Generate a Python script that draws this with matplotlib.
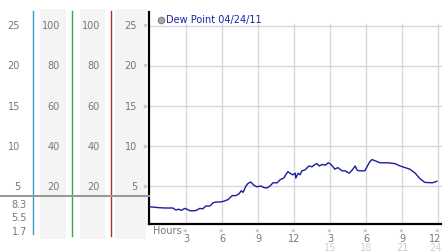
import matplotlib.pyplot as plt
from matplotlib.patches import Rectangle
from matplotlib.lines import Line2D

# dew point readings (hour of day, deg)
hours = [0, 0.67, 1.25, 1.9, 2.15, 2.4, 2.6, 2.9, 3.15, 3.35, 3.65, 3.85, 4.15, 4.4, 4.65,
         5.0, 5.25, 5.5, 5.85, 6.15, 6.5, 6.85, 7.15, 7.4, 7.6, 7.75, 8.0, 8.15, 8.4, 8.65,
         8.9, 9.25, 9.5, 9.75, 10.0, 10.25, 10.6, 10.85, 11.15, 11.35, 11.5, 11.65, 11.9,
         12.1, 12.15, 12.35, 12.5, 12.65, 12.9, 13.25, 13.5, 13.75, 13.9, 14.1, 14.35, 14.6,
         14.85, 15.0, 15.25, 15.4, 15.65, 16.0, 16.25, 16.6, 16.85, 17.1, 17.25, 17.4, 17.9,
         18.15, 18.35, 18.5, 18.85, 19.15, 19.85, 20.4, 20.85, 21.25, 21.65, 22.1, 22.5,
         22.9, 23.5, 23.75, 23.9]
dew_point = [2.4, 2.3, 2.25, 2.25, 2.0, 2.1, 1.95, 2.2, 2.05, 1.9, 1.9, 1.95, 2.2, 2.15, 2.5,
             2.5, 2.9, 3.0, 3.0, 3.1, 3.3, 3.8, 3.8, 4.0, 4.4, 4.2, 5.0, 5.3, 5.5, 5.1,
             4.9, 5.0, 4.8, 4.75, 5.0, 5.4, 5.4, 5.8, 6.0, 6.5, 6.8, 6.6, 6.4,
             6.6, 6.0, 6.6, 6.4, 6.9, 7.0, 7.5, 7.4, 7.7, 7.8, 7.5, 7.7, 7.6,
             7.9, 7.8, 7.4, 7.1, 7.3, 6.9, 6.9, 6.6, 7.0, 7.5, 7.0, 6.9, 6.9,
             7.6, 8.1, 8.3, 8.1, 7.9, 7.9, 7.8, 7.5, 7.3, 7.1, 6.6, 5.9,
             5.45, 5.4, 5.5, 5.6]

y_ticks = [25, 20, 15, 10, 5]
pct_ticks = ['100', '80', '60', '40', '20']
x_ticks = [3, 6, 9, 12, 15, 18, 21, 24]
x_labels = ['3', '6', '9', '12', '3', '6', '9', '12']
x_labels2 = ['15', '18', '21', '24']
small_vals = ['8.3', '5.5', '1.7']

W, H = 442, 253


def fx(x):
    return x / W


def fy(y):
    return 1 - y / H


fig = plt.figure(figsize=(W / 100, H / 100), dpi=100)

# left scale panels
for x0, x1 in [(40, 66), (80, 105), (115, 146)]:
    fig.add_artist(Rectangle((fx(x0), fy(240)), fx(x1 - x0), (240 - 10) / H,
                             transform=fig.transFigure, color='#f4f4f4', lw=0))
for xl, col, yb in [(33, '#3a9cc4', 235), (72, '#3aa83a', 237), (111, '#b03030', 237)]:
    fig.add_artist(Line2D([fx(xl), fx(xl)], [fy(12), fy(yb)], transform=fig.transFigure,
                          color=col, lw=1))
fig.add_artist(Line2D([0, fx(149)], [fy(197), fy(197)], transform=fig.transFigure,
                      color='#999999', lw=1.5))

gray = '#777777'
mark = '#a0a0a0'
ypix = [26, 66, 107, 147, 187]
for v, p, yp in zip(y_ticks, pct_ticks, ypix):
    fig.text(fx(20), fy(yp), str(v), ha='right', va='center', fontsize=7, color=gray)
    fig.text(fx(60), fy(yp), p, ha='right', va='center', fontsize=7, color=gray)
    fig.text(fx(100), fy(yp), p, ha='right', va='center', fontsize=7, color=gray)
    fig.text(fx(137), fy(yp), str(v), ha='right', va='center', fontsize=7, color=gray)
    fig.text(fx(145), fy(yp), '»', ha='center', va='center', fontsize=5.5, color=mark)
for s, yp in zip(small_vals, [205, 218, 232]):
    fig.text(fx(27), fy(yp), s, ha='right', va='center', fontsize=7, color=gray)

# main chart
ax = fig.add_axes([fx(149), fy(225), fx(442 - 149), (225 - 13) / H])
ax.set_xlim(-0.083, 24.33)
ax.set_ylim(0.25, 26.75)
for s in ['top', 'right']:
    ax.spines[s].set_visible(False)
ax.spines['left'].set_linewidth(1.6)
ax.spines['bottom'].set_linewidth(1.6)
ax.set_xticks([])
ax.set_yticks([])
for v in y_ticks:
    ax.axhline(v, color='#d9d9d9', lw=1, zorder=1)
ax.vlines(x_ticks, 0.25, 25.4, color='#d9d9d9', lw=1, zorder=1)
ax.plot(hours, dew_point, color='#1c1c9c', lw=1.0, zorder=3)

# legend
fig.add_artist(Line2D([fx(161)], [fy(20.5)], transform=fig.transFigure, marker='o',
                      markersize=4.5, color='#aaaaaa', markeredgecolor='#888888', lw=0))
fig.text(fx(165.5), fy(20.5), 'Dew Point 04/24/11', ha='left', va='center', fontsize=7,
         color='#2020a8')

# x labels
fig.text(fx(153), fy(231), 'Hours', ha='left', va='center', fontsize=7, color=gray)
for t, lab in zip(x_ticks, x_labels):
    xp = min(150 + 12 * t, 435)
    fig.text(fx(150 + 12 * t), fy(230), '»', ha='center', va='center', fontsize=5.5,
             color=mark, rotation=90)
    fig.text(fx(xp), fy(239), lab, ha='center', va='center', fontsize=7, color=gray)
for t, lab in zip(x_ticks[4:], x_labels2):
    xp = min(150 + 12 * t, 435)
    fig.text(fx(xp), fy(248), lab, ha='center', va='center', fontsize=7,
             color='#d0d0d0')

fig.savefig('out.png', dpi=100)
